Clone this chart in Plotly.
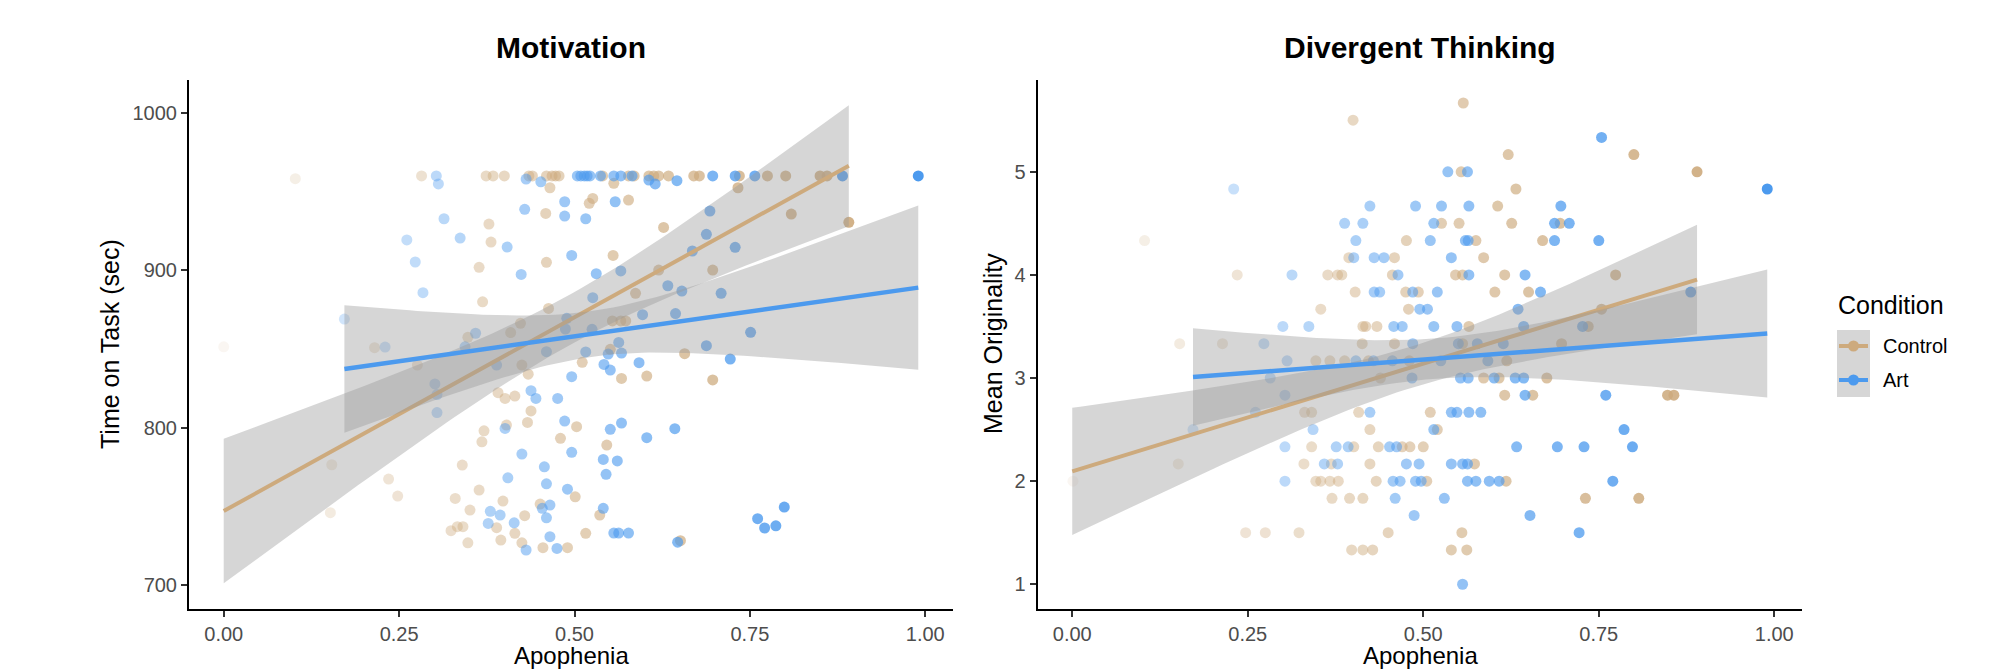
import numpy as np
import plotly.graph_objects as go

# ---------------- data: Motivation (Time on Task, sec) ----------------
mot_ctrl_x = [0.102, 0.282, 0.374, 0.384, 0.400, 0.435, 0.440, 0.460, 0.465, 0.468, 0.473, 0.478,
              0.540, 0.556, 0.577, 0.585, 0.606, 0.613, 0.620, 0.634, 0.670, 0.678, 0.735, 0.733,
              0.775, 0.801, 0.850, 0.860,
              0.526, 0.521, 0.577, 0.459, 0.378, 0.381, 0.460, 0.364, 0.369, 0.463, 0.423, 0.000,
              0.215, 0.348, 0.409, 0.276, 0.425, 0.434,
              0.809, 0.891, 0.627, 0.555, 0.620, 0.697, 0.587, 0.554, 0.566, 0.573, 0.551, 0.657,
              0.511, 0.567, 0.603, 0.697,
              0.391, 0.401, 0.415, 0.438, 0.433, 0.403, 0.371, 0.368, 0.480, 0.503, 0.154, 0.340,
              0.235, 0.248, 0.364, 0.330, 0.398, 0.501, 0.351, 0.429, 0.451, 0.389, 0.152, 0.324,
              0.333, 0.341, 0.415, 0.348, 0.395, 0.425, 0.455, 0.490,
              0.546, 0.536, 0.516, 0.651]
mot_ctrl_y = [958.3, 960, 960, 960, 960, 960, 960, 960, 952.5, 960, 960, 960,
              960, 955.3, 960, 960, 960, 960, 960, 960, 960, 960, 960, 952.5,
              960, 960, 960, 960,
              945.7, 942.6, 944.7, 936.2, 929.4, 918.0, 905.1, 901.9, 880.0, 875.8, 866.3, 851.4,
              850.8, 857.4, 860.4, 839.8, 839.8, 834.0,
              935.8, 930.5, 927.3, 909.5, 900.2, 900.2, 885.4, 867.8, 867.8, 867.8, 849.8, 847.0,
              841.5, 831.3, 832.8, 830.3,
              822.2, 818.6, 820.1, 810.6, 803.3, 801.6, 798.0, 791.0, 793.2, 800.6, 776.4, 776.2,
              767.3, 756.5, 760.3, 755.0, 753.3, 756.0, 747.6, 744.0, 751.4, 736.4, 745.9, 734.5,
              737.0, 737.0, 732.8, 726.8, 728.5, 726.8, 723.7, 723.7,
              788.9, 744.4, 732.8, 728.1]

mot_art_x = [0.303, 0.306, 0.431, 0.452, 0.504, 0.509, 0.514, 0.518, 0.522, 0.537, 0.556, 0.566,
             0.582, 0.606, 0.615, 0.646, 0.697, 0.729, 0.757, 0.882, 0.990,
             0.486, 0.429, 0.486, 0.314, 0.261, 0.337, 0.404, 0.273, 0.496, 0.424, 0.284, 0.172,
             0.489, 0.487, 0.230, 0.359, 0.344, 0.460, 0.389, 0.496,
             0.558, 0.516, 0.693, 0.688, 0.729, 0.668, 0.566, 0.531, 0.633, 0.653, 0.709, 0.526,
             0.597, 0.644, 0.525, 0.751, 0.563, 0.516, 0.548, 0.567, 0.688, 0.722, 0.542, 0.592,
             0.551,
             0.301, 0.304, 0.304, 0.438, 0.445, 0.476, 0.486, 0.401, 0.425, 0.496, 0.457, 0.405,
             0.460, 0.490, 0.380, 0.394, 0.454, 0.465, 0.460, 0.414, 0.377, 0.431, 0.465, 0.475,
             0.551, 0.567, 0.603, 0.643, 0.541, 0.561, 0.545, 0.541, 0.556, 0.563, 0.577, 0.647,
             0.761, 0.771, 0.787, 0.799]
mot_art_y = [960, 954.9, 958.0, 956.3, 960, 960, 960, 960, 960, 960, 960, 960,
             960, 957.4, 954.9, 957.0, 960, 960, 960, 960, 960,
             943.6, 938.8, 934.5, 932.8, 919.3, 920.5, 914.8, 905.3, 909.5, 897.4, 885.8, 869.0,
             869.5, 862.7, 851.2, 860.0, 851.4, 848.3, 839.8, 832.4,
             943.6, 932.8, 937.7, 922.9, 914.6, 912.3, 899.6, 897.9, 890.2, 886.8, 885.4, 882.6,
             871.8, 872.5, 862.5, 860.6, 854.2, 848.1, 846.8, 847.4, 852.1, 843.6, 840.2, 841.3,
             836.6,
             827.8, 821.0, 809.6, 823.5, 818.6, 818.6, 804.2, 799.5, 783.2, 784.3, 775.1, 768.1,
             764.3, 760.9, 746.8, 744.4, 748.7, 750.8, 742.7, 739.5, 739.1, 722.2, 730.7, 723.2,
             798.9, 802.9, 793.6, 799.3, 779.8, 778.8, 770.3, 748.7, 733.0, 733.0, 733.0, 727.2,
             742.1, 736.2, 737.6, 749.5]

# ---------------- data: Divergent Thinking (Mean Originality) ----------------
div_ctrl_rows = {
    5.667: [0.557],
    5.5: [0.400],
    5.167: [0.621, 0.800],
    5.0: [0.554, 0.890],
    4.833: [0.632],
    4.667: [0.606],
    4.5: [0.526, 0.551, 0.626, 0.695],
    4.333: [0.103, 0.476, 0.575, 0.670],
    4.167: [0.394, 0.459, 0.586],
    4.0: [0.235, 0.364, 0.378, 0.384, 0.456, 0.546, 0.556, 0.616, 0.774],
    3.833: [0.403, 0.475, 0.493, 0.602, 0.650],
    3.667: [0.354, 0.479, 0.754],
    3.5: [0.414, 0.418, 0.434, 0.565, 0.735],
    3.333: [0.153, 0.214, 0.413, 0.459, 0.556, 0.697],
    3.167: [0.347, 0.367, 0.388, 0.422, 0.480, 0.619],
    3.0: [0.439, 0.586, 0.608, 0.676],
    2.833: [0.616, 0.656, 0.848, 0.857],
    2.667: [0.331, 0.341, 0.408, 0.510],
    2.5: [0.424, 0.520],
    2.333: [0.341, 0.401, 0.436, 0.470, 0.481, 0.500],
    2.167: [0.151, 0.330, 0.369, 0.424, 0.573],
    2.0: [0.001, 0.347, 0.354, 0.367, 0.379, 0.433, 0.505, 0.618],
    1.833: [0.370, 0.395, 0.414, 0.731, 0.807],
    1.5: [0.247, 0.275, 0.323, 0.450, 0.555],
    1.333: [0.398, 0.414, 0.428, 0.540, 0.562],
}
div_art_rows = {
    5.333: [0.754],
    5.0: [0.535, 0.563],
    4.833: [0.230, 0.990],
    4.667: [0.424, 0.489, 0.526, 0.565, 0.696],
    4.5: [0.388, 0.414, 0.515, 0.687, 0.708],
    4.333: [0.404, 0.510, 0.560, 0.564, 0.687, 0.750],
    4.167: [0.401, 0.430, 0.444, 0.540],
    4.0: [0.313, 0.464, 0.565, 0.645],
    3.833: [0.430, 0.438, 0.485, 0.520, 0.667, 0.881],
    3.667: [0.495, 0.506, 0.635],
    3.5: [0.300, 0.337, 0.458, 0.470, 0.515, 0.548, 0.643, 0.727],
    3.333: [0.273, 0.485, 0.550, 0.577, 0.614],
    3.167: [0.306, 0.404, 0.429, 0.456, 0.525, 0.592],
    3.0: [0.282, 0.484, 0.553, 0.564, 0.601, 0.631, 0.643],
    2.833: [0.303, 0.645, 0.760],
    2.667: [0.261, 0.424, 0.540, 0.548, 0.565, 0.582],
    2.5: [0.172, 0.343, 0.515, 0.786],
    2.333: [0.303, 0.376, 0.393, 0.452, 0.462, 0.633, 0.691, 0.729, 0.798],
    2.167: [0.359, 0.378, 0.476, 0.494, 0.540, 0.556, 0.563],
    2.0: [0.303, 0.457, 0.467, 0.489, 0.497, 0.563, 0.575, 0.594, 0.608, 0.770],
    1.833: [0.460, 0.530],
    1.667: [0.487, 0.652],
    1.5: [0.722],
    1.0: [0.556],
}

mot_ctrl_fit_x = [0.0, 0.891]
mot_ctrl_fit_y = [747.0, 966.5]
mot_ctrl_ci_x = [0.0, 0.682, 0.891]
mot_ctrl_ci_h = [46.0, 23.1, 38.5]

mot_art_fit_x = [0.172, 0.990]
mot_art_fit_y = [837.3, 889.0]
mot_art_ci_x = [0.172, 0.600, 0.990]
mot_art_ci_h = [40.5, 16.7, 52.2]

div_ctrl_fit_x = [0.0, 0.890]
div_ctrl_fit_y = [2.095, 3.955]
div_ctrl_ci_x = [0.0, 0.542, 0.637, 0.779, 0.890]
div_ctrl_ci_h = [0.616, 0.228, 0.257, 0.410, 0.532]

div_art_fit_x = [0.172, 0.990]
div_art_fit_y = [3.010, 3.432]
div_art_ci_x = [0.172, 0.296, 0.390, 0.470, 0.990]
div_art_ci_h = [0.470, 0.345, 0.255, 0.195, 0.620]

x_tickvals = [0, 0.25, 0.5, 0.75, 1.0]
x_ticktext = ["0.00", "0.25", "0.50", "0.75", "1.00"]
mot_tickvals = [700, 800, 900, 1000]
div_tickvals = [1, 2, 3, 4, 5]
groups = ["Control", "Art"]

COL = {"Control": "#CDAA7D", "Art": "#4C9AEE"}
FONT = "Liberation Sans, Arial, Helvetica, sans-serif"
W, H = 1998, 669


def rows_to_xy(rows):
    xs, ys = [], []
    for y, xl in rows.items():
        for x in xl:
            xs.append(x)
            ys.append(y)
    return xs, ys


div_ctrl_x, div_ctrl_y = rows_to_xy(div_ctrl_rows)
div_art_x, div_art_y = rows_to_xy(div_art_rows)


def band(fit_x, fit_y, ci_x, ci_h, npts=80):
    xg = np.linspace(fit_x[0], fit_x[1], npts)
    yh = np.interp(xg, fit_x, fit_y)
    # CI half-width of a linear fit: sqrt of a quadratic in x
    coef = np.polyfit(ci_x, np.square(ci_h), 2)
    h = np.sqrt(np.clip(np.polyval(coef, xg), 0, None))
    return xg, yh, yh - h, yh + h


all_x = np.array(mot_ctrl_x + mot_art_x + div_ctrl_x + div_art_x)
amin, amax = all_x.min(), all_x.max()


def alpha_of(x):
    x = np.asarray(x, float)
    return 0.1 + 0.9 * (x - amin) / (amax - amin)


fig = go.Figure()

panels = [
    ("x", "y",
     {"Control": (mot_ctrl_x, mot_ctrl_y), "Art": (mot_art_x, mot_art_y)},
     {"Control": (mot_ctrl_fit_x, mot_ctrl_fit_y, mot_ctrl_ci_x, mot_ctrl_ci_h),
      "Art": (mot_art_fit_x, mot_art_fit_y, mot_art_ci_x, mot_art_ci_h)}),
    ("x2", "y2",
     {"Control": (div_ctrl_x, div_ctrl_y), "Art": (div_art_x, div_art_y)},
     {"Control": (div_ctrl_fit_x, div_ctrl_fit_y, div_ctrl_ci_x, div_ctrl_ci_h),
      "Art": (div_art_fit_x, div_art_fit_y, div_art_ci_x, div_art_ci_h)}),
]

for xa, ya, data, fits in panels:
    for g in groups:
        gx, gy = data[g]
        fig.add_trace(go.Scatter(
            x=gx, y=gy, mode="markers", xaxis=xa, yaxis=ya, showlegend=False,
            marker=dict(size=11, color=COL[g], opacity=alpha_of(gx), line=dict(width=0)),
            hoverinfo="skip"))
    for g in groups:
        xg, yh, lo, hi = band(*fits[g])
        fig.add_trace(go.Scatter(
            x=np.concatenate([xg, xg[::-1]]), y=np.concatenate([lo, hi[::-1]]),
            mode="lines", fill="toself", fillcolor="rgba(153,153,153,0.4)",
            line=dict(width=0), xaxis=xa, yaxis=ya, showlegend=False, hoverinfo="skip"))
        fig.add_trace(go.Scatter(
            x=xg, y=yh, mode="lines", line=dict(color=COL[g], width=4.5 if g == "Art" else 4),
            xaxis=xa, yaxis=ya, showlegend=False, hoverinfo="skip"))


def px(xp):
    return xp / W


def py(yp):
    return 1 - yp / H


axis_common = dict(
    showgrid=False, zeroline=False, showline=True, linecolor="black", linewidth=2,
    ticks="outside", ticklen=6, tickwidth=2, tickcolor="#333333",
    tickfont=dict(family=FONT, size=20, color="#4D4D4D"), automargin=False,
)

fig.update_layout(
    width=W, height=H, margin=dict(l=0, r=0, t=0, b=0),
    paper_bgcolor="white", plot_bgcolor="white", showlegend=False,
    xaxis=dict(domain=[px(189), px(953)], range=[-0.0495, 1.0395], anchor="y",
               tickvals=x_tickvals, ticktext=x_ticktext, **axis_common),
    yaxis=dict(domain=[py(609), py(80)], range=[684.7, 1021.0], anchor="x",
               tickvals=mot_tickvals, **axis_common),
    xaxis2=dict(domain=[px(1037.5), px(1802)], range=[-0.0495, 1.0395], anchor="y2",
                tickvals=x_tickvals, ticktext=x_ticktext, **axis_common),
    yaxis2=dict(domain=[py(609), py(80)], range=[0.76, 5.89], anchor="x2",
                tickvals=div_tickvals, **axis_common),
)

ann = []
ann.append(dict(text="<b>Motivation</b>", x=px(571), y=py(47), font=dict(size=30)))
ann.append(dict(text="<b>Divergent Thinking</b>", x=px(1420), y=py(47), font=dict(size=30)))
ann.append(dict(text="Apophenia", x=px(571), y=py(655), font=dict(size=24)))
ann.append(dict(text="Apophenia", x=px(1420), y=py(655), font=dict(size=24)))
ann.append(dict(text="Time on Task (sec)", x=px(110), y=py(344), font=dict(size=25), textangle=-90))
ann.append(dict(text="Mean Originality", x=px(993), y=py(344), font=dict(size=25), textangle=-90))
ann.append(dict(text="Condition", x=px(1836), y=py(305), font=dict(size=25), xanchor="left"))
ann.append(dict(text="Control", x=px(1881), y=py(346), font=dict(size=20), xanchor="left"))
ann.append(dict(text="Art", x=px(1881), y=py(380), font=dict(size=20), xanchor="left"))
for a in ann:
    a.setdefault("xanchor", "center")
    a.update(xref="paper", yref="paper", yanchor="middle", showarrow=False)
    a["font"].update(family=FONT, color="black")
fig.update_layout(annotations=ann)

shapes = [dict(type="rect", xref="paper", yref="paper", x0=px(1837), x1=px(1870),
               y0=py(397), y1=py(330), fillcolor="#D6D6D6", line=dict(width=0), layer="above")]
for g, yk in (("Control", 346), ("Art", 380)):
    shapes.append(dict(type="line", xref="paper", yref="paper", x0=px(1839), x1=px(1868),
                       y0=py(yk), y1=py(yk), line=dict(color=COL[g], width=4), layer="above"))
    shapes.append(dict(type="circle", xref="paper", yref="paper", x0=px(1848), x1=px(1859),
                       y0=py(yk + 5.5), y1=py(yk - 5.5), fillcolor=COL[g], line=dict(width=0),
                       layer="above"))
fig.update_layout(shapes=shapes)

fig.write_html("out.html", config={"displayModeBar": False},
               post_script="document.body.style.margin='0';document.body.style.overflow='hidden';")
